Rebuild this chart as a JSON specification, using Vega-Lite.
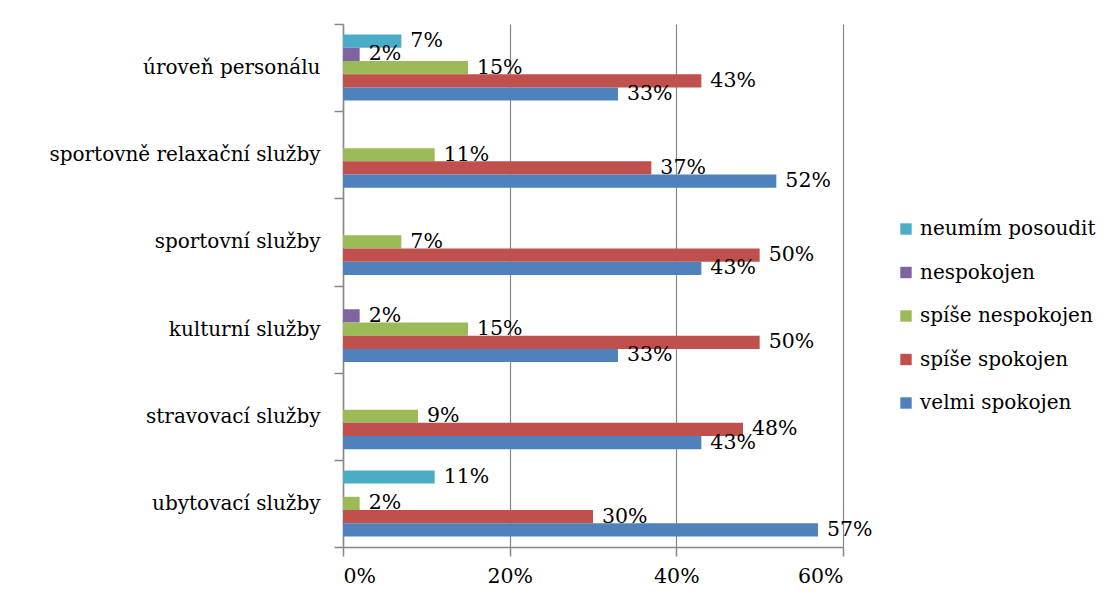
{
  "$schema": "https://vega.github.io/schema/vega-lite/v6.json",
  "width": 500,
  "height": 523,
  "autosize": "none",
  "padding": {"left": 343, "top": 24, "right": 272, "bottom": 61},
  "background": "white",
  "config": {
    "view": {"stroke": null},
    "axisY": {"labelFont": "DejaVu Serif", "labelColor": "black"},
    "axisX": {"labelFont": "DejaVu Serif", "labelColor": "black"},
    "legend": {"labelFont": "DejaVu Serif", "labelColor": "black"}
  },
  "data": {
    "values": [
      {"cat": "úroveň personálu", "series": "neumím posoudit", "value": 0.07},
      {"cat": "úroveň personálu", "series": "nespokojen", "value": 0.02},
      {"cat": "úroveň personálu", "series": "spíše nespokojen", "value": 0.15},
      {"cat": "úroveň personálu", "series": "spíše spokojen", "value": 0.43},
      {"cat": "úroveň personálu", "series": "velmi spokojen", "value": 0.33},
      {"cat": "sportovně relaxační služby", "series": "spíše nespokojen", "value": 0.11},
      {"cat": "sportovně relaxační služby", "series": "spíše spokojen", "value": 0.37},
      {"cat": "sportovně relaxační služby", "series": "velmi spokojen", "value": 0.52},
      {"cat": "sportovní služby", "series": "spíše nespokojen", "value": 0.07},
      {"cat": "sportovní služby", "series": "spíše spokojen", "value": 0.50},
      {"cat": "sportovní služby", "series": "velmi spokojen", "value": 0.43},
      {"cat": "kulturní služby", "series": "nespokojen", "value": 0.02},
      {"cat": "kulturní služby", "series": "spíše nespokojen", "value": 0.15},
      {"cat": "kulturní služby", "series": "spíše spokojen", "value": 0.50},
      {"cat": "kulturní služby", "series": "velmi spokojen", "value": 0.33},
      {"cat": "stravovací služby", "series": "spíše nespokojen", "value": 0.09},
      {"cat": "stravovací služby", "series": "spíše spokojen", "value": 0.48},
      {"cat": "stravovací služby", "series": "velmi spokojen", "value": 0.43},
      {"cat": "ubytovací služby", "series": "neumím posoudit", "value": 0.11},
      {"cat": "ubytovací služby", "series": "spíše nespokojen", "value": 0.02},
      {"cat": "ubytovací služby", "series": "spíše spokojen", "value": 0.30},
      {"cat": "ubytovací služby", "series": "velmi spokojen", "value": 0.57}
    ]
  },
  "encoding": {
    "y": {
      "field": "cat",
      "type": "nominal",
      "sort": ["úroveň personálu", "sportovně relaxační služby", "sportovní služby", "kulturní služby", "stravovací služby", "ubytovací služby"],
      "scale": {"paddingInner": 0, "paddingOuter": 0},
      "axis": {
        "title": null,
        "tickBand": "extent",
        "labelFont": "DejaVu Serif",
        "labelFontSize": 20,
        "tickSize": 9,
        "labelPadding": 14,
        "domainColor": "#878787",
        "domainWidth": 1.5,
        "tickColor": "#878787",
        "tickWidth": 1.5,
        "grid": false,
        "labelLimit": 400
      }
    },
    "yOffset": {
      "field": "series",
      "type": "nominal",
      "sort": ["neumím posoudit", "nespokojen", "spíše nespokojen", "spíše spokojen", "velmi spokojen"],
      "scale": {"paddingInner": 0, "paddingOuter": 0.8}
    },
    "x": {
      "field": "value",
      "type": "quantitative",
      "scale": {"domain": [0, 0.6]},
      "axis": {
        "title": null,
        "values": [0, 0.2, 0.4, 0.6],
        "format": ".0%",
        "labelFont": "DejaVu Serif",
        "labelFontSize": 20.5,
        "tickSize": 9,
        "labelPadding": 10,
        "domainColor": "#878787",
        "domainWidth": 1.5,
        "tickColor": "#878787",
        "tickWidth": 1.5,
        "grid": true,
        "gridColor": "#878787",
        "gridWidth": 1.2
      }
    }
  },
  "layer": [
    {
      "mark": {"type": "bar"},
      "encoding": {
        "color": {
          "field": "series",
          "type": "nominal",
          "scale": {
            "domain": ["neumím posoudit", "nespokojen", "spíše nespokojen", "spíše spokojen", "velmi spokojen"],
            "range": ["#4BACC6", "#8064A2", "#9BBB59", "#C0504D", "#4F81BD"]
          },
          "legend": {
            "title": null,
            "orient": "none",
            "legendX": 553,
            "legendY": 195,
            "symbolType": "square",
            "symbolSize": 130,
            "symbolStrokeWidth": 0,
            "labelFont": "DejaVu Serif",
            "labelFontSize": 20,
            "labelOffset": 4,
            "labelLimit": 400,
            "rowPadding": 23.5,
            "padding": 0
          }
        }
      }
    },
    {
      "mark": {"type": "text", "align": "left", "baseline": "middle", "dx": 9, "fontSize": 20.5, "color": "black", "font": "DejaVu Serif"},
      "encoding": {"text": {"field": "value", "type": "quantitative", "format": ".0%"}}
    }
  ]
}
